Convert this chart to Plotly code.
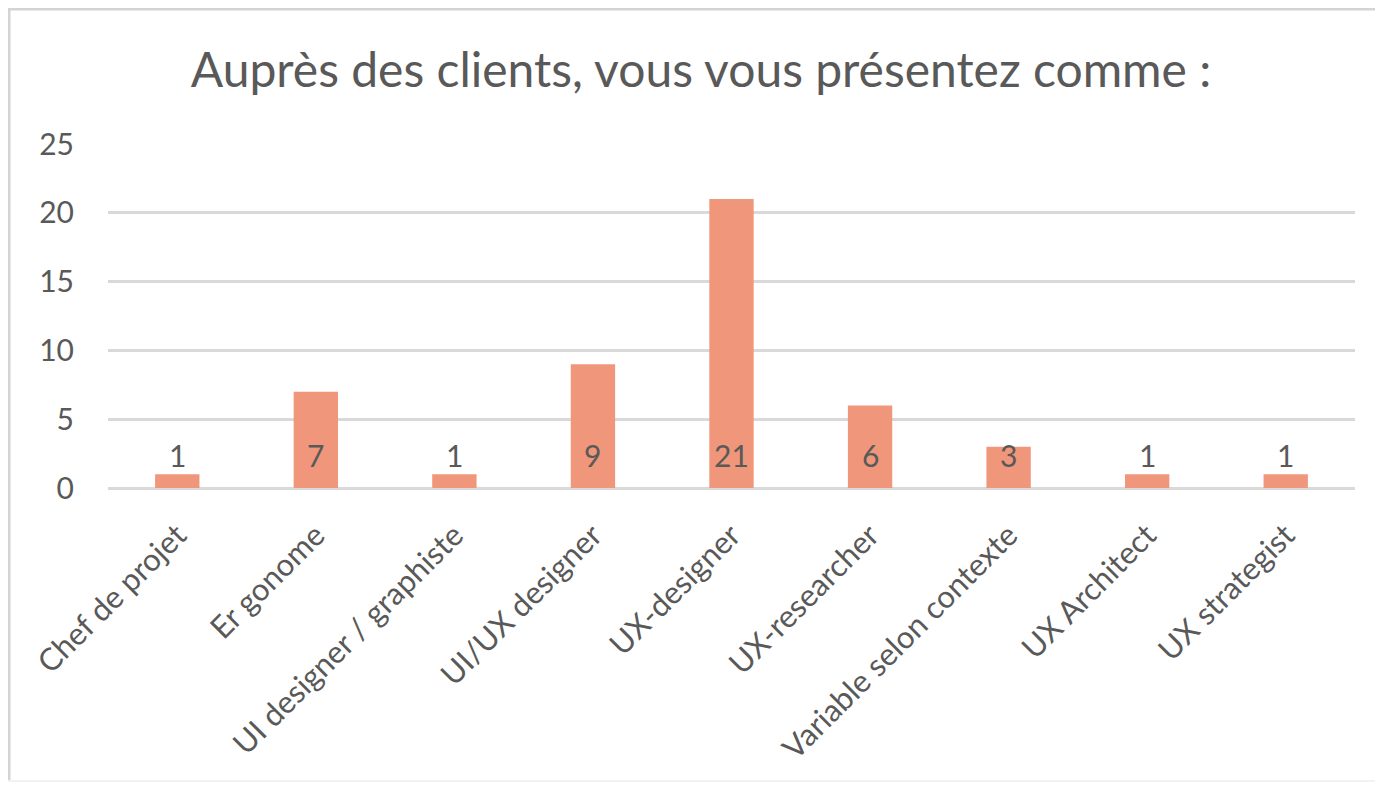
import plotly.graph_objects as go

categories = ["Chef de projet", "Er gonome", "UI designer / graphiste", "UI/UX designer",
              "UX-designer", "UX-researcher", "Variable selon contexte", "UX Architect", "UX strategist"]
values = [1, 7, 1, 9, 21, 6, 3, 1, 1]
y_ticks = [0, 5, 10, 15, 20, 25]

# page body has an 8px margin, figure coordinates are page - 8
W, H = 1375, 778
L, R, T, B = 100, 28, 136, 298
pw, ph = W - L - R, H - T - B

def px(x):
    return (x - L) / pw

def py(y):
    return (H - B - y) / ph

FONT = "Lato"
GREY = "#595959"

fig = go.Figure()
fig.add_trace(go.Bar(
    x=categories, y=values,
    marker=dict(color="#F0967A", line=dict(width=0)),
    hoverinfo="skip",
))

for c, v in zip(categories, values):
    fig.add_annotation(x=c, y=0, yref="y", xref="x", text=str(v), showarrow=False,
                       yshift=33, font=dict(family=FONT, size=30, color=GREY))

fig.add_shape(type="line", xref="paper", yref="paper", x0=px(0), x1=px(1400), y0=py(1), y1=py(1),
              line=dict(color="#D4D4D4", width=3))
fig.add_shape(type="line", xref="paper", yref="paper", x0=px(1), x1=px(1), y0=py(0), y1=py(774),
              line=dict(color="#D4D4D4", width=3))
fig.add_shape(type="line", xref="paper", yref="paper", x0=px(0), x1=px(1400), y0=py(773), y1=py(773),
              line=dict(color="#F2F2F2", width=2))

fig.update_layout(
    width=W, height=H,
    margin=dict(l=L, r=R, t=T, b=B),
    paper_bgcolor="white", plot_bgcolor="white",
    title=dict(text="Auprès des clients, vous vous présentez comme :", x=px(693), xanchor="center",
               xref="paper", y=1 - 62 / H, yanchor="middle",
               font=dict(family=FONT, size=48, color=GREY)),
    bargap=0.68,
    showlegend=False,
    font=dict(family=FONT, color=GREY),
)
fig.update_yaxes(range=[0, 25], tickvals=y_ticks, showgrid=True, gridcolor="#D9D9D9", gridwidth=2.5,
                 zeroline=True, zerolinecolor="#D9D9D9", zerolinewidth=2.5, showline=False,
                 ticks="", ticklabelstandoff=33,
                 tickfont=dict(family=FONT, size=30, color=GREY))
fig.update_xaxes(tickangle=-45, showline=False, ticks="", showgrid=False, ticklabelstandoff=22,
                 tickfont=dict(family=FONT, size=31, color=GREY))

fig.write_html("out.html")
